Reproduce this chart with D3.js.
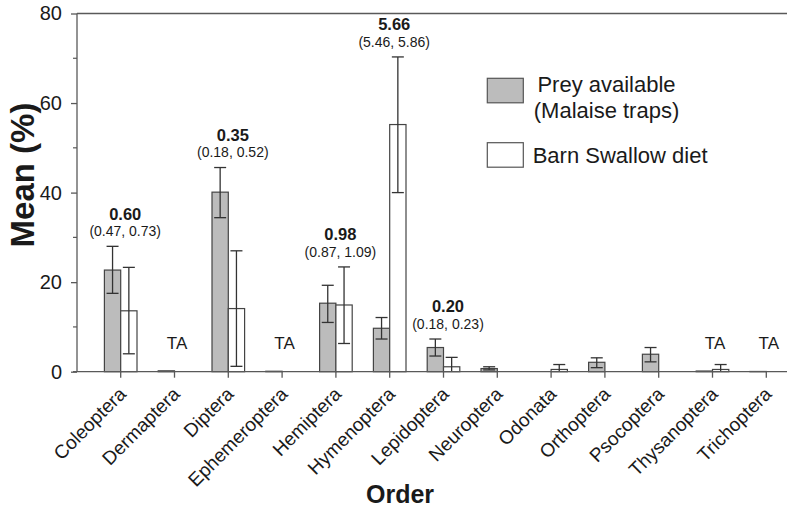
<!DOCTYPE html>
<html>
<head>
<meta charset="utf-8">
<script src="https://cdn.jsdelivr.net/npm/d3@7"></script>
<style>
  body { margin: 0; background: #fff; }
  svg text { font-family: "Liberation Sans", Arial, sans-serif; fill: #1a1a1a; }
</style>
</head>
<body>
<div id="graph"></div>
<script>
// insect orders on the x axis
var categories = ["Coleoptera", "Dermaptera", "Diptera", "Ephemeroptera", "Hemiptera",
    "Hymenoptera", "Lepidoptera", "Neuroptera", "Odonata", "Orthoptera",
    "Psocoptera", "Thysanoptera", "Trichoptera"];

// prey available (Malaise traps), mean % and error bar ends (null = no bar)
var preyMean = [22.7, 0.2, 40.1, 0.1, 15.3, 9.7, 5.4, 0.7, 0, 2.1, 3.9, 0.15, 0.05];
var preyLow  = [17.5, null, 34.4, null, 11.0, 7.3, 3.5, 0.4, null, 0.9, 2.2, null, null];
var preyHigh = [28.0, null, 45.6, null, 19.3, 12.1, 7.3, 1.1, null, 3.1, 5.4, null, null];

// barn swallow diet
var dietMean = [13.6, 0, 14.1, 0, 14.9, 55.2, 1.1, 0, 0.5, 0, 0, 0.5, 0];
var dietLow  = [4.0, null, 1.2, null, 6.3, 40.0, 0, null, 0, null, null, 0, null];
var dietHigh = [23.3, null, 27.0, null, 23.4, 70.3, 3.2, null, 1.6, null, null, 1.6, null];

// selection ratios printed above some groups
var ratioCats = ["Coleoptera", "Diptera", "Hemiptera", "Hymenoptera", "Lepidoptera"];
var ratioVals = ["0.60", "0.35", "0.98", "5.66", "0.20"];
var ratioCIs  = ["(0.47, 0.73)", "(0.18, 0.52)", "(0.87, 1.09)", "(5.46, 5.86)", "(0.18, 0.23)"];

var taCats = ["Dermaptera", "Ephemeroptera", "Thysanoptera", "Trichoptera"];

var yMajor = [0, 20, 40, 60, 80];
var yMinor = [10, 30, 50, 70];

var legendLabels = [["Prey available", "(Malaise traps)"], ["Barn Swallow diet"]];

var w = 787, h = 507;
var plotLeft = 77, plotTop = 13.5, plotBottom = 371.7;
var axisColor = "#595959", barStroke = "#444", errColor = "#333", grey = "#bcbcbc";

var svg = d3.select("#graph").append("svg")
    .attr("width", w)
    .attr("height", h);

var x = d3.scalePoint()
    .domain(categories)
    .range([120.7, 766.3]);

var y = d3.scaleLinear()
    .domain([0, 80])
    .range([plotBottom, plotTop]);

var bw = 16.3;   // bar width
var cap = 12;    // error cap width

// frame line along the top
svg.append("line")
    .attr("x1", plotLeft).attr("x2", w)
    .attr("y1", plotTop).attr("y2", plotTop)
    .attr("stroke", axisColor).attr("stroke-width", 1.3);

// y axis
var yAxis = svg.append("g")
    .attr("transform", "translate(" + plotLeft + ",0)")
    .call(d3.axisLeft(y).tickValues(yMajor).tickSize(6).tickPadding(9).tickFormat(d3.format("d")));
yAxis.select(".domain").remove();
yAxis.selectAll("line").attr("stroke", axisColor).attr("stroke-width", 1.3);
yAxis.selectAll("text").attr("font-size", 20).attr("fill", "#1a1a1a");

svg.append("g").selectAll("line")
    .data(yMinor)
    .enter().append("line")
    .attr("x1", plotLeft - 4).attr("x2", plotLeft)
    .attr("y1", function(d) { return y(d); })
    .attr("y2", function(d) { return y(d); })
    .attr("stroke", axisColor).attr("stroke-width", 1.2);

svg.append("line")
    .attr("x1", plotLeft).attr("x2", plotLeft)
    .attr("y1", plotTop).attr("y2", plotBottom)
    .attr("stroke", axisColor).attr("stroke-width", 1.3);

// bars
var bars = svg.append("g");

bars.selectAll("rect.prey")
    .data(categories)
    .enter().append("rect")
    .attr("class", "prey")
    .attr("x", function(d) { return x(d) - bw; })
    .attr("y", function(d, i) { return y(preyMean[i]); })
    .attr("width", bw)
    .attr("height", function(d, i) { return plotBottom - y(preyMean[i]); })
    .attr("fill", grey)
    .attr("stroke", barStroke)
    .attr("stroke-width", 1.2);

bars.selectAll("rect.diet")
    .data(categories)
    .enter().append("rect")
    .attr("class", "diet")
    .attr("x", function(d) { return x(d); })
    .attr("y", function(d, i) { return y(dietMean[i]); })
    .attr("width", bw)
    .attr("height", function(d, i) { return plotBottom - y(dietMean[i]); })
    .attr("fill", "#fff")
    .attr("stroke", barStroke)
    .attr("stroke-width", 1.2)
    .attr("visibility", function(d, i) { return dietMean[i] > 0 ? "visible" : "hidden"; });

// error bars
function errorBars(lo, hi, offset) {
    var idx = d3.range(categories.length).filter(function(i) { return lo[i] !== null; });
    var g = svg.append("g")
        .attr("stroke", errColor)
        .attr("stroke-width", 1.3);
    idx.forEach(function(i) {
        var cx = x(categories[i]) + offset;
        g.append("line")
            .attr("x1", cx).attr("x2", cx)
            .attr("y1", y(hi[i])).attr("y2", y(lo[i]));
        [lo[i], hi[i]].forEach(function(v) {
            if (v <= 0) { return; }
            g.append("line")
                .attr("x1", cx - cap / 2).attr("x2", cx + cap / 2)
                .attr("y1", y(v)).attr("y2", y(v));
        });
    });
}
errorBars(preyLow, preyHigh, -bw / 2);
errorBars(dietLow, dietHigh, bw / 2);

// x axis
svg.append("line")
    .attr("x1", plotLeft - 4).attr("x2", w)
    .attr("y1", plotBottom).attr("y2", plotBottom)
    .attr("stroke", axisColor).attr("stroke-width", 1.3);

svg.append("g").selectAll("line")
    .data(categories)
    .enter().append("line")
    .attr("x1", function(d) { return x(d); })
    .attr("x2", function(d) { return x(d); })
    .attr("y1", plotBottom).attr("y2", plotBottom + 6)
    .attr("stroke", axisColor).attr("stroke-width", 1.3);

svg.append("g").selectAll("text")
    .data(categories)
    .enter().append("text")
    .attr("transform", function(d) { return "translate(" + (x(d) + 6.5) + "," + (plotBottom + 23.5) + ") rotate(-45)"; })
    .attr("text-anchor", "end")
    .attr("font-size", 19)
    .text(function(d) { return d; });

// ratio labels above the groups
ratioCats.forEach(function(c, k) {
    var i = categories.indexOf(c);
    var topVal = Math.max(preyHigh[i] || 0, dietHigh[i] || 0);
    var yc = y(topVal) - 15;
    svg.append("text")
        .attr("x", x(c) + 4.5)
        .attr("y", yc)
        .attr("dy", "0.35em")
        .attr("text-anchor", "middle")
        .attr("font-size", 14)
        .attr("fill", "#333")
        .text(ratioCIs[k]);
    svg.append("text")
        .attr("x", x(c) + 4.5)
        .attr("y", yc - 17.5)
        .attr("dy", "0.35em")
        .attr("text-anchor", "middle")
        .attr("font-size", 16.5)
        .attr("font-weight", "bold")
        .text(ratioVals[k]);
});

svg.append("g").selectAll("text")
    .data(taCats)
    .enter().append("text")
    .attr("x", function(d) { return x(d) + 2.5; })
    .attr("y", plotBottom - 29)
    .attr("dy", "0.35em")
    .attr("text-anchor", "middle")
    .attr("font-size", 17)
    .text("TA");

// axis titles
svg.append("text")
    .attr("transform", "translate(22,175) rotate(-90)")
    .attr("dy", "0.35em")
    .attr("text-anchor", "middle")
    .attr("font-size", 33)
    .attr("font-weight", "bold")
    .text("Mean (%)");

svg.append("text")
    .attr("x", 400)
    .attr("y", 494)
    .attr("dy", "0.35em")
    .attr("text-anchor", "middle")
    .attr("font-size", 25)
    .attr("font-weight", "bold")
    .text("Order");

// legend
var legend = svg.append("g");
var swatchY = [78.3, 142.7];
var swatchFill = [grey, "#fff"];
legendLabels.forEach(function(lines, k) {
    legend.append("rect")
        .attr("x", 487.3).attr("y", swatchY[k])
        .attr("width", 36).attr("height", 24.5)
        .attr("fill", swatchFill[k])
        .attr("stroke", "#555")
        .attr("stroke-width", 1.2);
});
legend.append("text").attr("x", 606.5).attr("y", 84).attr("dy", "0.35em")
    .attr("text-anchor", "middle").attr("font-size", 22).text(legendLabels[0][0]);
legend.append("text").attr("x", 606.5).attr("y", 110).attr("dy", "0.35em")
    .attr("text-anchor", "middle").attr("font-size", 22).text(legendLabels[0][1]);
legend.append("text").attr("x", 532.7).attr("y", 155).attr("dy", "0.35em")
    .attr("font-size", 22).text(legendLabels[1][0]);
</script>
</body>
</html>
